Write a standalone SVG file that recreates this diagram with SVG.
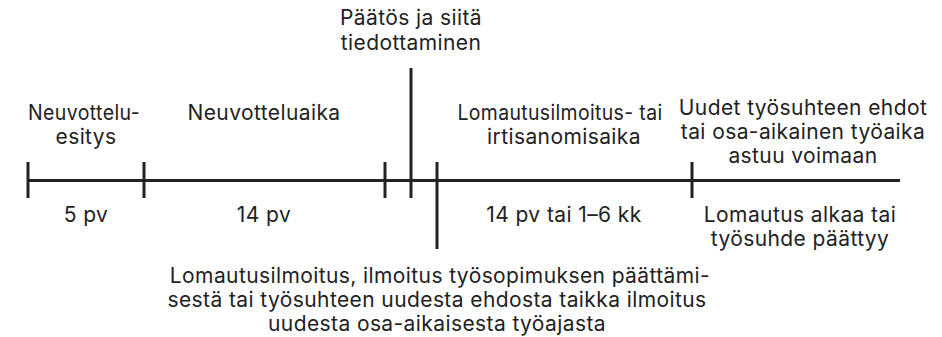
<svg xmlns="http://www.w3.org/2000/svg" width="942" height="337" viewBox="0 0 942 337">
<style>
text{font-family:Inter,"Liberation Sans",sans-serif;font-size:21px;letter-spacing:0.4px;fill:#222;text-anchor:middle}
.ln{stroke:#222;stroke-width:3;fill:none}
</style>
<rect width="942" height="337" fill="#fff"/>
<g id="connectors">
<line class="ln" x1="28" y1="180.5" x2="900" y2="180.5"/>
<line class="ln" x1="28" y1="162" x2="28" y2="198"/>
<line class="ln" x1="144" y1="162" x2="144" y2="198"/>
<line class="ln" x1="385" y1="162" x2="385" y2="198"/>
<line class="ln" x1="411" y1="68" x2="411" y2="198"/>
<line class="ln" x1="437" y1="162" x2="437" y2="249"/>
<line class="ln" x1="692" y1="162" x2="692" y2="198"/>
</g>
<g id="neuvotteluesitys"><text x="84" y="120" textLength="112" lengthAdjust="spacingAndGlyphs">Neuvottelu-</text><text x="86" y="144">esitys</text></g>
<g id="neuvotteluaika"><text x="264" y="120">Neuvotteluaika</text></g>
<g id="paatos"><text x="411" y="25">Päätös ja siitä</text><text x="411" y="50">tiedottaminen</text></g>
<g id="lomautusaika"><text x="560" y="120" textLength="205" lengthAdjust="spacingAndGlyphs">Lomautusilmoitus- tai</text><text x="564" y="144">irtisanomisaika</text></g>
<g id="uudet"><text x="803" y="115">Uudet työsuhteen ehdot</text><text x="803" y="139">tai osa-aikainen työaika</text><text x="803" y="163">astuu voimaan</text></g>
<g id="pv5"><text x="86" y="222">5 pv</text></g>
<g id="pv14"><text x="264" y="222">14 pv</text></g>
<g id="pv14kk"><text x="564" y="222">14 pv tai 1–6 kk</text></g>
<g id="lomautusalkaa"><text x="800" y="222">Lomautus alkaa tai</text><text x="800" y="246">työsuhde päättyy</text></g>
<g id="ilmoitus"><text x="440" y="283">Lomautusilmoitus, ilmoitus työsopimuksen päättämi-</text><text x="437" y="307">sestä tai työsuhteen uudesta ehdosta taikka ilmoitus</text><text x="437" y="331">uudesta osa-aikaisesta työajasta</text></g>
</svg>
